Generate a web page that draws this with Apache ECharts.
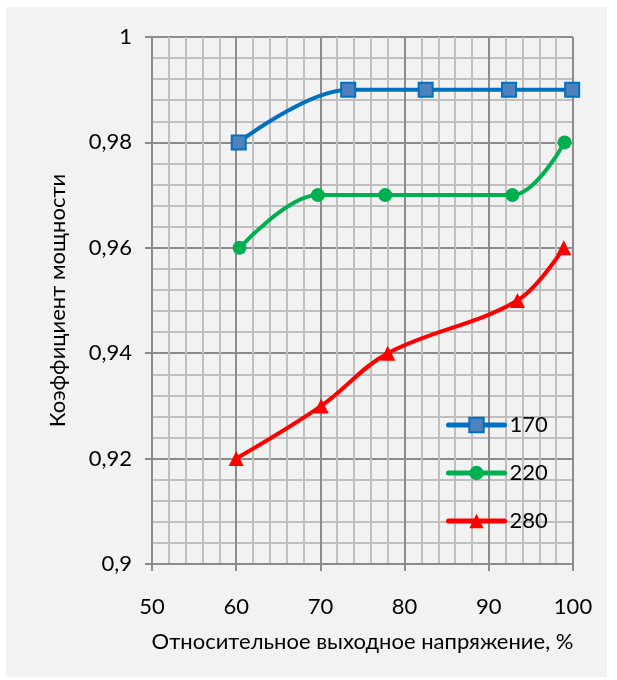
<!DOCTYPE html>
<html>
<head>
<meta charset="utf-8">
<script src="https://cdn.jsdelivr.net/npm/echarts@6/dist/echarts.min.js"></script>
<style>
  html, body { margin: 0; padding: 0; background: #ffffff; }
  #chart { width: 617px; height: 680px; }
</style>
</head>
<body>
<div id="chart"></div>
<script>
// данные
var seriesNames = ['170', '220', '280'];
var x170 = [60.3, 73.3, 82.5, 92.4, 99.9];
var y170 = [0.98, 0.99, 0.99, 0.99, 0.99];
var x220 = [60.4, 69.7, 77.7, 92.8, 99.0];
var y220 = [0.96, 0.97, 0.97, 0.97, 0.98];
var x280 = [60.0, 70.1, 78.0, 93.4, 98.9];
var y280 = [0.92, 0.93, 0.94, 0.95, 0.96];
var xTicks = [50, 60, 70, 80, 90, 100];
var yTicks = [0.9, 0.92, 0.94, 0.96, 0.98, 1];

function pairs(xs, ys) {
    return xs.map(function (x, i) { return [x, ys[i]]; });
}

var font = 'Lato, "Open Sans", sans-serif';
var chart = echarts.init(document.getElementById('chart'));

var options = {
    animation: false,
    backgroundColor: '#ffffff',
    graphic: [{
        type: 'rect',
        z: -10,
        shape: { x: 6, y: 7, width: 601, height: 670 },
        style: { fill: '#f2f2f2' }
    }],
    grid: { left: 152, right: 44, top: 37, bottom: 116 },
    xAxis: {
        type: 'value',
        min: xTicks[0],
        max: xTicks[xTicks.length - 1],
        interval: 10,
        name: 'Относительное выходное напряжение, %',
        nameLocation: 'middle',
        nameGap: 67,
        nameTextStyle: { color: '#000', fontSize: 22, fontFamily: font },
        axisLine: { show: true, lineStyle: { color: '#8c8c8c', width: 2 } },
        axisTick: { show: true, length: 7, lineStyle: { color: '#8c8c8c', width: 2 } },
        axisLabel: { color: '#000', fontSize: 22, fontFamily: font, margin: 32 },
        splitLine: { show: true, lineStyle: { color: '#8c8c8c', width: 2 } },
        minorTick: { show: false, splitNumber: 5 },
        minorSplitLine: { show: true, lineStyle: { color: '#bfbfbf', width: 2 } }
    },
    yAxis: {
        type: 'value',
        min: yTicks[0],
        max: yTicks[yTicks.length - 1],
        interval: 0.02,
        name: 'Коэффициент мощности',
        nameLocation: 'middle',
        nameGap: 83,
        nameRotate: 90,
        nameTextStyle: { color: '#000', fontSize: 22, fontFamily: font },
        axisLine: { show: true, lineStyle: { color: '#8c8c8c', width: 2 } },
        axisTick: { show: true, length: 7, lineStyle: { color: '#8c8c8c', width: 2 } },
        axisLabel: {
            color: '#000', fontSize: 22, fontFamily: font, margin: 20,
            formatter: function (v) { return String(+v.toFixed(2)).replace('.', ','); }
        },
        splitLine: { show: true, lineStyle: { color: '#8c8c8c', width: 2 } },
        minorTick: { show: false, splitNumber: 5 },
        minorSplitLine: { show: true, lineStyle: { color: '#bfbfbf', width: 2 } }
    },
    legend: {
        orient: 'vertical',
        left: 441,
        top: 409,
        itemWidth: 56,
        itemHeight: 18,
        itemGap: 26,
        data: seriesNames,
        lineStyle: { width: 5, cap: 'round' },
        textStyle: { color: '#000', fontSize: 22, fontFamily: font }
    },
    series: [
        {
            name: '170', type: 'line', smooth: 0.35,
            data: pairs(x170, y170),
            symbol: 'rect', symbolSize: 14,
            lineStyle: { color: '#0070c0', width: 4 },
            itemStyle: { color: '#4f81bd', borderColor: '#0070c0', borderWidth: 2 }
        },
        {
            name: '220', type: 'line', smooth: 0.35,
            data: pairs(x220, y220),
            symbol: 'circle', symbolSize: 14,
            lineStyle: { color: '#00b050', width: 4 },
            itemStyle: { color: '#00b050' }
        },
        {
            name: '280', type: 'line', smooth: 0.35,
            data: pairs(x280, y280),
            symbol: 'triangle', symbolSize: 15,
            lineStyle: { color: '#ff0000', width: 4 },
            itemStyle: { color: '#ff0000' }
        }
    ]
};

chart.setOption(options);
</script>
</body>
</html>
